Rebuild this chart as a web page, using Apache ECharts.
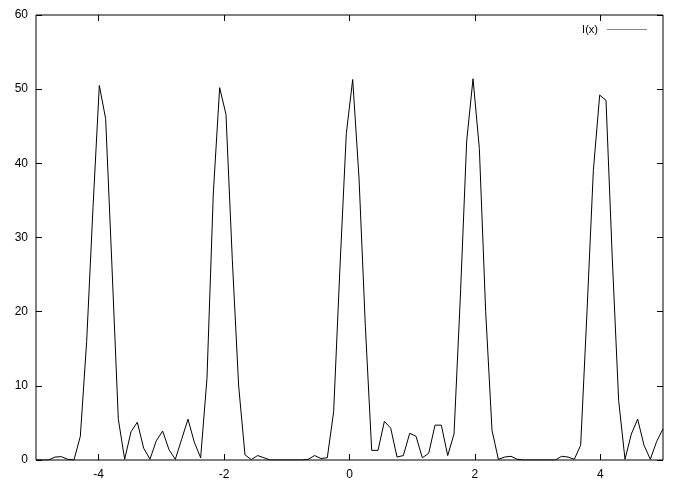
<!DOCTYPE html>
<html>
<head>
<meta charset="utf-8">
<script src="https://cdn.jsdelivr.net/npm/echarts@6/dist/echarts.min.js"></script>
<style>html,body{margin:0;padding:0;background:#fff;}#c{width:678px;height:491px;}</style>
</head>
<body>
<div id="c"></div>
<script>
const seriesName = 'I(x)';
const xValues = [
 -5.000,-4.899,-4.798,-4.697,-4.596,-4.495,-4.394,-4.293,-4.192,-4.091,
 -3.990,-3.889,-3.788,-3.687,-3.586,-3.485,-3.384,-3.283,-3.182,-3.081,
 -2.980,-2.879,-2.778,-2.677,-2.576,-2.475,-2.374,-2.273,-2.172,-2.071,
 -1.970,-1.869,-1.768,-1.667,-1.566,-1.465,-1.364,-1.263,-1.162,-1.061,
 -0.960,-0.859,-0.758,-0.657,-0.556,-0.455,-0.354,-0.253,-0.152,-0.051,
  0.051, 0.152, 0.253, 0.354, 0.455, 0.556, 0.657, 0.758, 0.859, 0.960,
  1.061, 1.162, 1.263, 1.364, 1.465, 1.566, 1.667, 1.768, 1.869, 1.970,
  2.071, 2.172, 2.273, 2.374, 2.475, 2.576, 2.677, 2.778, 2.879, 2.980,
  3.081, 3.182, 3.283, 3.384, 3.485, 3.586, 3.687, 3.788, 3.889, 3.990,
  4.091, 4.192, 4.293, 4.394, 4.495, 4.596, 4.697, 4.798, 4.899, 5.000
];
const yValues = [
  0.0, 0.0, 0.0, 0.4, 0.45, 0.1, 0.0, 3.2, 16, 34,
  50.5, 46, 26, 5.5, 0.1, 3.8, 5.1, 1.6, 0.1, 2.6,
  3.9, 1.4, 0.1, 2.8, 5.5, 2.4, 0.3, 11, 36, 50.2,
  46.6, 27, 10, 0.7, 0.05, 0.6, 0.3, 0.0, 0.0, 0.0,
  0.0, 0.0, 0.0, 0.1, 0.6, 0.2, 0.3, 6.5, 26, 44,
  51.3, 38, 18, 1.3, 1.3, 5.2, 4.3, 0.4, 0.6, 3.6,
  3.2, 0.3, 0.9, 4.7, 4.7, 0.6, 3.5, 22, 43, 51.4,
  42, 20, 4, 0.1, 0.4, 0.5, 0.1, 0.0, 0.0, 0.0,
  0.0, 0.0, 0.0, 0.5, 0.4, 0.1, 2, 20, 39, 49.2,
  48.5, 27, 8, 0.1, 3.5, 5.5, 2, 0.1, 2.5, 4.2
];
const xTickValues = [-4, -2, 0, 2, 4];
const yTickValues = [0, 10, 20, 30, 40, 50, 60];

const font = 'Liberation Sans, Arial, sans-serif';
const chart = echarts.init(document.getElementById('c'), null, {renderer: 'canvas'});
const data = xValues.map((x, i) => [x, yValues[i]]);
const tickStyle = {show: true, inside: true, length: 6, lineStyle: {color: '#000', width: 1}};
const noLine = {show: false, onZero: false};
chart.setOption({
  animation: false,
  backgroundColor: '#fff',
  grid: {left: 36, right: 15, top: 15, bottom: 31, show: true, borderColor: '#000', borderWidth: 1, backgroundColor: 'transparent'},
  legend: {
    show: true, right: 31, top: 24, align: 'right', padding: 0,
    itemWidth: 40, itemHeight: 1, itemGap: 5,
    textStyle: {fontFamily: font, fontSize: 11, color: '#000', padding: [0, 4, 0, 0]},
    data: [{name: seriesName, icon: 'rect', itemStyle: {color: '#888'}}]
  },
  xAxis: [
    {type: 'value', min: -5, max: 5, position: 'bottom',
     axisLine: noLine, splitLine: {show: false},
     axisTick: Object.assign({customValues: xTickValues}, tickStyle),
     axisLabel: {customValues: xTickValues, margin: 9, color: '#000', fontFamily: font, fontSize: 12}},
    {type: 'value', min: -5, max: 5, position: 'top',
     axisLine: noLine, splitLine: {show: false},
     axisTick: Object.assign({customValues: xTickValues}, tickStyle),
     axisLabel: {show: false}}
  ],
  yAxis: [
    {type: 'value', min: 0, max: 60, interval: 10, position: 'left',
     axisLine: noLine, splitLine: {show: false},
     axisTick: Object.assign({customValues: yTickValues}, tickStyle),
     axisLabel: {customValues: yTickValues, margin: 8, color: '#000', fontFamily: font, fontSize: 12}},
    {type: 'value', min: 0, max: 60, interval: 10, position: 'right',
     axisLine: noLine, splitLine: {show: false},
     axisTick: Object.assign({customValues: yTickValues}, tickStyle),
     axisLabel: {show: false}}
  ],
  series: [{
    name: seriesName, type: 'line', data: data,
    xAxisIndex: 0, yAxisIndex: 0,
    showSymbol: false, symbol: 'none', smooth: false,
    lineStyle: {color: '#000', width: 1},
    itemStyle: {color: '#000'}
  }]
});
</script>
</body>
</html>
